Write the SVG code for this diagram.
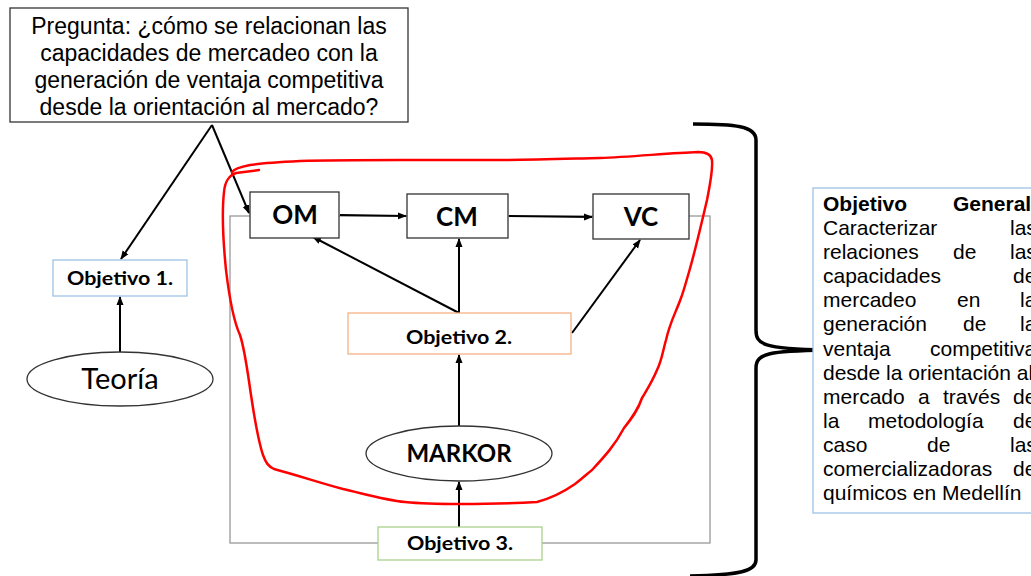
<svg xmlns="http://www.w3.org/2000/svg" width="1031" height="576" viewBox="0 0 1031 576">
  <style>
    .box { fill: #fff; stroke: #333; stroke-width: 1.3; }
    .lbl { font-family: Lato, "Liberation Sans", sans-serif; font-weight: bold; fill: #000; text-anchor: middle; }
    .q { font-family: "Liberation Sans", Arial, sans-serif; font-size: 23px; fill: #000; text-anchor: middle; }
    .gen { font-family: "Liberation Sans", Arial, sans-serif; font-size: 21px; fill: #000; }
    .arrow { stroke: #000; stroke-width: 2; fill: none; marker-end: url(#head); }
  </style>
  <defs>
    <marker id="head" markerWidth="9" markerHeight="8" refX="8" refY="4" orient="auto" markerUnits="userSpaceOnUse">
      <path d="M0,0.5 L9,4 L0,7.5 z" fill="#000"/>
    </marker>
  </defs>

  <rect width="1031" height="576" fill="#fff"/>

  <!-- outer grey frame -->
  <rect x="230" y="216" width="480" height="327" fill="none" stroke="#999" stroke-width="1.3"/>

  <g id="connectors">
    <line class="arrow" x1="212" y1="125" x2="121" y2="259"/>
    <line class="arrow" x1="212" y1="125" x2="249" y2="213"/>
    <line class="arrow" x1="120" y1="352" x2="120" y2="297"/>
    <line class="arrow" x1="340" y1="215" x2="406" y2="216"/>
    <line class="arrow" x1="509" y1="216" x2="592" y2="217"/>
    <line class="arrow" x1="459" y1="313" x2="313" y2="237"/>
    <line class="arrow" x1="459" y1="313" x2="459" y2="239"/>
    <line class="arrow" x1="572" y1="333" x2="640" y2="240"/>
    <line class="arrow" x1="459" y1="426" x2="459" y2="355"/>
    <line class="arrow" x1="459" y1="527" x2="459" y2="482"/>
  </g>

  <g id="pregunta">
    <rect x="10" y="8" width="398" height="114" fill="#fff" stroke="#333" stroke-width="1.3"/>
    <text class="q" x="209" y="34">Pregunta: ¿cómo se relacionan las</text>
    <text class="q" x="209" y="61">capacidades de mercadeo con la</text>
    <text class="q" x="209" y="88">generación de ventaja competitiva</text>
    <text class="q" x="209" y="115">desde la orientación al mercado?</text>
  </g>

  <g id="objetivo1">
    <rect x="53" y="260" width="134" height="36" fill="#fff" stroke="#9DC3E6" stroke-width="1.3"/>
    <text class="lbl" x="120" y="285" font-size="18.5" textLength="106" lengthAdjust="spacingAndGlyphs">Objetivo 1.</text>
  </g>

  <g id="teoria">
    <ellipse cx="120" cy="379" rx="93" ry="27" fill="#fff" stroke="#333" stroke-width="1.3"/>
    <text x="120" y="389" font-family="Lato, 'Liberation Sans', sans-serif" font-size="29" text-anchor="middle">Teoría</text>
  </g>

  <g id="om">
    <rect class="box" x="250" y="192" width="89" height="46"/>
    <text class="lbl" x="295" y="224" font-size="26">OM</text>
  </g>
  <g id="cm">
    <rect class="box" x="407" y="194" width="101" height="44"/>
    <text class="lbl" x="457" y="226" font-size="26">CM</text>
  </g>
  <g id="vc">
    <rect class="box" x="593" y="194" width="96" height="45"/>
    <text class="lbl" x="641" y="226" font-size="26">VC</text>
  </g>

  <g id="objetivo2">
    <rect x="348" y="313" width="223" height="41" fill="#fff" stroke="#F4B183" stroke-width="1.3"/>
    <text class="lbl" x="459" y="344" font-size="18.5" textLength="106" lengthAdjust="spacingAndGlyphs">Objetivo 2.</text>
  </g>

  <g id="markor">
    <ellipse cx="459" cy="453.5" rx="93" ry="27.5" fill="#fff" stroke="#333" stroke-width="1.3"/>
    <text class="lbl" x="459" y="462" font-size="24">MARKOR</text>
  </g>

  <g id="objetivo3">
    <rect x="378" y="527" width="164" height="33" fill="#fff" stroke="#A9D18E" stroke-width="1.3"/>
    <text class="lbl" x="460" y="550" font-size="18.5" textLength="106" lengthAdjust="spacingAndGlyphs">Objetivo 3.</text>
  </g>

  <!-- hand-drawn red outline -->
  <path id="red-loop" fill="none" stroke="#FF0000" stroke-width="2.5" stroke-linejoin="round" stroke-linecap="round"
        d="M259,170 L236,173 C228,176 225,182 224,192 C222,210 223,240 226,270 C229,295 233,320 240,335
           C245,350 248,375 251,395 C254,415 258,440 263,455 C266,463 268,466 274,469
           C300,476 320,483 343,489 C365,494 385,500 405,502 C425,504 440,504 460,504
           C490,504 520,503 537,502 C552,498 565,491 575,484 C583,478 587,474 592,470
           C605,456 615,445 624,428 C632,418 638,410 642,398 C648,388 652,382 657,370
           C662,360 663,350 666,340 C670,322 676,312 681,298 C684,290 686,282 689,272
           C694,255 700,230 707,200 C710,185 713,170 712,160 C711,154 706,152 698,152
           C670,153 630,157 600,158 C560,159 530,160 500,160 C460,160 430,160 400,160
           C360,160 330,160 300,161 C280,162 262,163 250,165 C240,167 234,169 232,172"/>

  <!-- curly brace grouping -->
  <path id="brace" fill="none" stroke="#000" stroke-width="3.5" stroke-linejoin="round"
        d="M693,124 C735,124 756,126 756,140 L756,330 C756,344 762,349 826,350
           M826,350 C770,351 756,353 756,368 L756,560 C756,571 740,575 690,576"/>

  <g id="objetivo-general">
    <rect x="813" y="188" width="230" height="325" fill="#fff" stroke="#9DC3E6" stroke-width="1.3"/>
    <text class="gen" font-weight="bold"><tspan x="823" y="211">Objetivo</tspan><tspan x="953" y="211">General</tspan></text>
    <text class="gen">
      <tspan x="823" y="235">Caracterizar</tspan><tspan x="1010" y="235">las</tspan>
      <tspan x="823" y="259">relaciones</tspan><tspan x="953" y="259">de</tspan><tspan x="1010" y="259">las</tspan>
      <tspan x="823" y="283">capacidades</tspan><tspan x="1013" y="283">de</tspan>
      <tspan x="823" y="307">mercadeo</tspan><tspan x="957" y="307">en</tspan><tspan x="1020" y="307">la</tspan>
      <tspan x="823" y="331">generación</tspan><tspan x="963" y="331">de</tspan><tspan x="1020" y="331">la</tspan>
      <tspan x="823" y="356">ventaja</tspan><tspan x="930" y="356">competitiva</tspan>
      <tspan x="823" y="380">desde la orientación al</tspan>
      <tspan x="823" y="404">mercado</tspan><tspan x="918" y="404">a</tspan><tspan x="943" y="404">través</tspan><tspan x="1013" y="404">de</tspan>
      <tspan x="823" y="428">la</tspan><tspan x="868" y="428">metodología</tspan><tspan x="1013" y="428">de</tspan>
      <tspan x="823" y="452">caso</tspan><tspan x="927" y="452">de</tspan><tspan x="1010" y="452">las</tspan>
      <tspan x="823" y="476">comercializadoras</tspan><tspan x="1013" y="476">de</tspan>
      <tspan x="823" y="500">químicos en Medellín</tspan>
    </text>
  </g>
</svg>
